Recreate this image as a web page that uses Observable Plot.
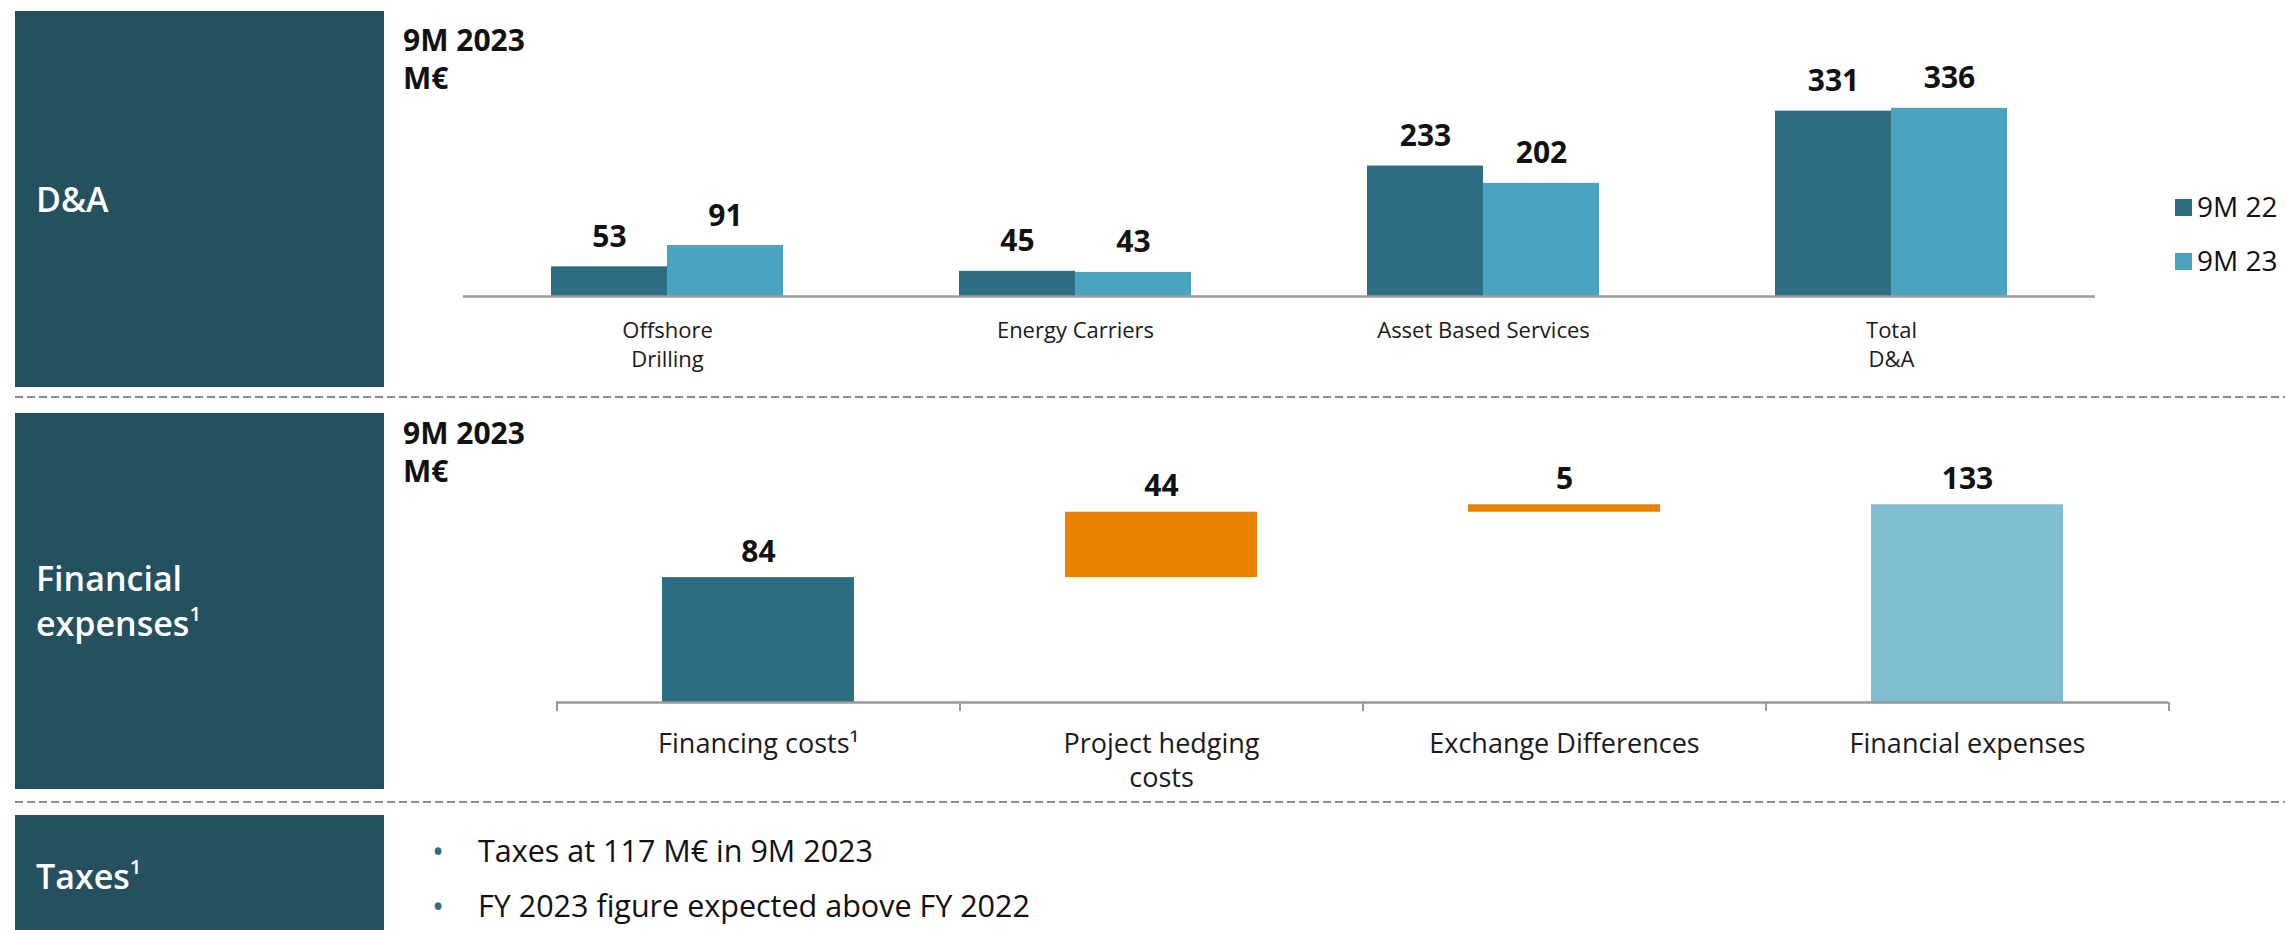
<!DOCTYPE html>
<html><head><meta charset="utf-8">
<script src="https://cdn.jsdelivr.net/npm/d3@7"></script>
<script src="https://cdn.jsdelivr.net/npm/@observablehq/plot@0.6"></script>
<style>
body{margin:0;background:#fff;font-family:"Open Sans",sans-serif;}
#page{position:relative;width:2285px;height:930px;overflow:hidden;background:#fff;}
.panel{position:absolute;left:15px;width:369px;background:#24505f;color:#fff;display:flex;align-items:center;box-sizing:border-box;padding-left:21px;font-size:34px;font-weight:600;line-height:45px;z-index:2;}
.panel sup,.sup{font-size:0.6em;line-height:0;vertical-align:0.75em;}
.dash{position:absolute;left:15px;right:0;height:2px;background:repeating-linear-gradient(to right,#8c8c8c 0 8px,transparent 8px 12px);}
.hdr{position:absolute;left:403px;font-size:30px;font-weight:700;line-height:38px;color:#111;z-index:2;}
.chart{position:absolute;left:0;z-index:1;}
.lg-sq{position:absolute;width:17px;height:17px;}
.lg-tx{position:absolute;font-size:28px;line-height:28px;color:#111;white-space:nowrap;}
.bullet{position:absolute;left:432px;font-size:32px;color:#2e6e82;line-height:55px;}
.btxt{position:absolute;left:478px;font-size:30.5px;line-height:55px;color:#111;white-space:nowrap;}
</style>
</head>
<body>
<div id="page">
  <div class="panel" style="top:11px;height:376px;">D&amp;A</div>
  <div class="panel" style="top:413px;height:376px;"><div>Financial<br>expenses<sup>1</sup></div></div>
  <div class="panel" style="top:815px;height:122px;"><div>Taxes<sup>1</sup></div></div>
  <div class="dash" style="top:396px;"></div>
  <div class="dash" style="top:801px;"></div>
  <div class="hdr" id="hdr1" style="top:21px;"></div>
  <div class="hdr" id="hdr2" style="top:414px;"></div>
  <div class="chart" id="c1" style="top:0px;"></div>
  <div class="chart" id="c2" style="top:400px;"></div>
  <div id="legend"></div>
  <div id="taxes"></div>
</div>
<script>
// ---- data ----
const headerLines = ["9M 2023", "M€"];
const daCategories = ["Offshore\nDrilling", "Energy Carriers", "Asset Based Services", "Total\nD&A"];
const daSeries = ["9M 22", "9M 23"];
const da9M22 = [53, 45, 233, 331];
const da9M23 = [91, 43, 202, 336];
const feCategories = ["Financing costs¹", "Project hedging\ncosts", "Exchange Differences", "Financial expenses"];
const feValues = [84, 44, 5, 133];
const feKinds = ["base", "delta", "delta", "total"];
const taxBullets = ["Taxes at 117 M€ in 9M 2023", "FY 2023 figure expected above FY 2022"];

// ---- colours ----
const C22 = "#2e6e82", C23 = "#4aa3bf";
const kindColors = ["#2e6e82", "#e88200", "#80bdd0"];
const AXIS = "#9a9a9a";
const FONT = "'Open Sans', sans-serif";
const W = 2285;

// headers
for (const id of ["hdr1", "hdr2"]) document.getElementById(id).innerHTML = headerLines.join("<br>");

// legend
const lg = document.getElementById("legend");
daSeries.forEach((s, i) => {
  const sq = document.createElement("div");
  sq.className = "lg-sq"; sq.style.left = "2175px"; sq.style.top = (199 + i * 54) + "px";
  sq.style.background = i === 0 ? C22 : C23;
  const tx = document.createElement("div");
  tx.className = "lg-tx"; tx.style.left = "2197px"; tx.style.top = (192 + i * 54) + "px";
  tx.textContent = s;
  lg.appendChild(sq); lg.appendChild(tx);
});

// taxes bullets
const tx = document.getElementById("taxes");
taxBullets.forEach((t, i) => {
  const b = document.createElement("div");
  b.className = "bullet"; b.style.top = (823 + i * 55) + "px"; b.textContent = "•";
  const s = document.createElement("div");
  s.className = "btxt"; s.style.top = (823 + i * 55) + "px"; s.textContent = t;
  tx.appendChild(b); tx.appendChild(s);
});

// ---- chart 1: D&A grouped bars ----
const daRows = daCategories.flatMap((c, i) => [
  {cat: c, series: daSeries[0], value: da9M22[i]},
  {cat: c, series: daSeries[1], value: da9M23[i]}
]);
const chart1 = Plot.plot({
  width: W, height: 390,
  marginLeft: 461, marginRight: 189, marginTop: 72, marginBottom: 94,
  fx: {domain: daCategories, padding: 0, axis: null},
  x: {domain: daSeries, paddingInner: 0, paddingOuter: 0.748, axis: null},
  y: {domain: [0, 400], axis: null},
  color: {domain: daSeries, range: [C22, C23]},
  style: {fontFamily: FONT, background: "transparent", overflow: "visible"},
  marks: [
    Plot.barY(daRows, {fx: "cat", x: "series", y: "value", fill: "series"}),
    Plot.ruleY([0], {stroke: AXIS, strokeWidth: 2.5}),
    Plot.text(daRows, {fx: "cat", x: "series", y: "value", text: d => String(d.value), dy: -20, lineAnchor: "bottom", fontSize: 30, fontWeight: "bold", fill: "#111"}),
    Plot.axisFx({anchor: "bottom", tickSize: 0, tickPadding: 21, fontSize: 22, lineHeight: 1.32, fill: "#1a1a1a", label: null})
  ]
});
document.getElementById("c1").appendChild(chart1);

// ---- chart 2: financial expenses waterfall ----
let cum = 0;
const feRows = feCategories.map((c, i) => {
  const v = feValues[i], k = feKinds[i];
  let y1, y2;
  if (k === "base") { y1 = 0; y2 = v; cum = v; }
  else if (k === "delta") { y1 = cum; y2 = cum + v; cum += v; }
  else { y1 = 0; y2 = v; }
  return {cat: c, kind: k, value: v, y1, y2};
});
const m2L = 556, m2R = 117;
const step = (W - m2L - m2R) / feCategories.length;
const chart2 = Plot.plot({
  width: W, height: 395,
  marginLeft: m2L, marginRight: m2R, marginTop: 79, marginBottom: 93,
  x: {domain: feCategories, paddingInner: 0.5236, paddingOuter: 0.2618, axis: null},
  y: {domain: [0, 150], axis: null},
  color: {domain: ["base", "delta", "total"], range: kindColors},
  style: {fontFamily: FONT, background: "transparent", overflow: "visible"},
  marks: [
    Plot.barY(feRows, {x: "cat", y1: "y1", y2: "y2", fill: "kind"}),
    Plot.ruleY([0], {stroke: AXIS, strokeWidth: 2.5}),
    Plot.axisX({anchor: "bottom", tickSize: 9, fill: "none", stroke: AXIS, strokeWidth: 2, dx: -step / 2, label: null}),
    Plot.axisX({anchor: "bottom", ticks: [feCategories[feCategories.length - 1]], tickSize: 9, fill: "none", stroke: AXIS, strokeWidth: 2, dx: step / 2, label: null}),
    Plot.axisX({anchor: "bottom", tickSize: 0, tickPadding: 26, fontSize: 27, lineHeight: 1.26, fill: "#1a1a1a", label: null}),
    Plot.text(feRows, {x: "cat", y: "y2", text: d => String(d.value), dy: -16, lineAnchor: "bottom", fontSize: 30, fontWeight: "bold", fill: "#111"})
  ]
});
document.getElementById("c2").appendChild(chart2);
</script>
</body></html>
